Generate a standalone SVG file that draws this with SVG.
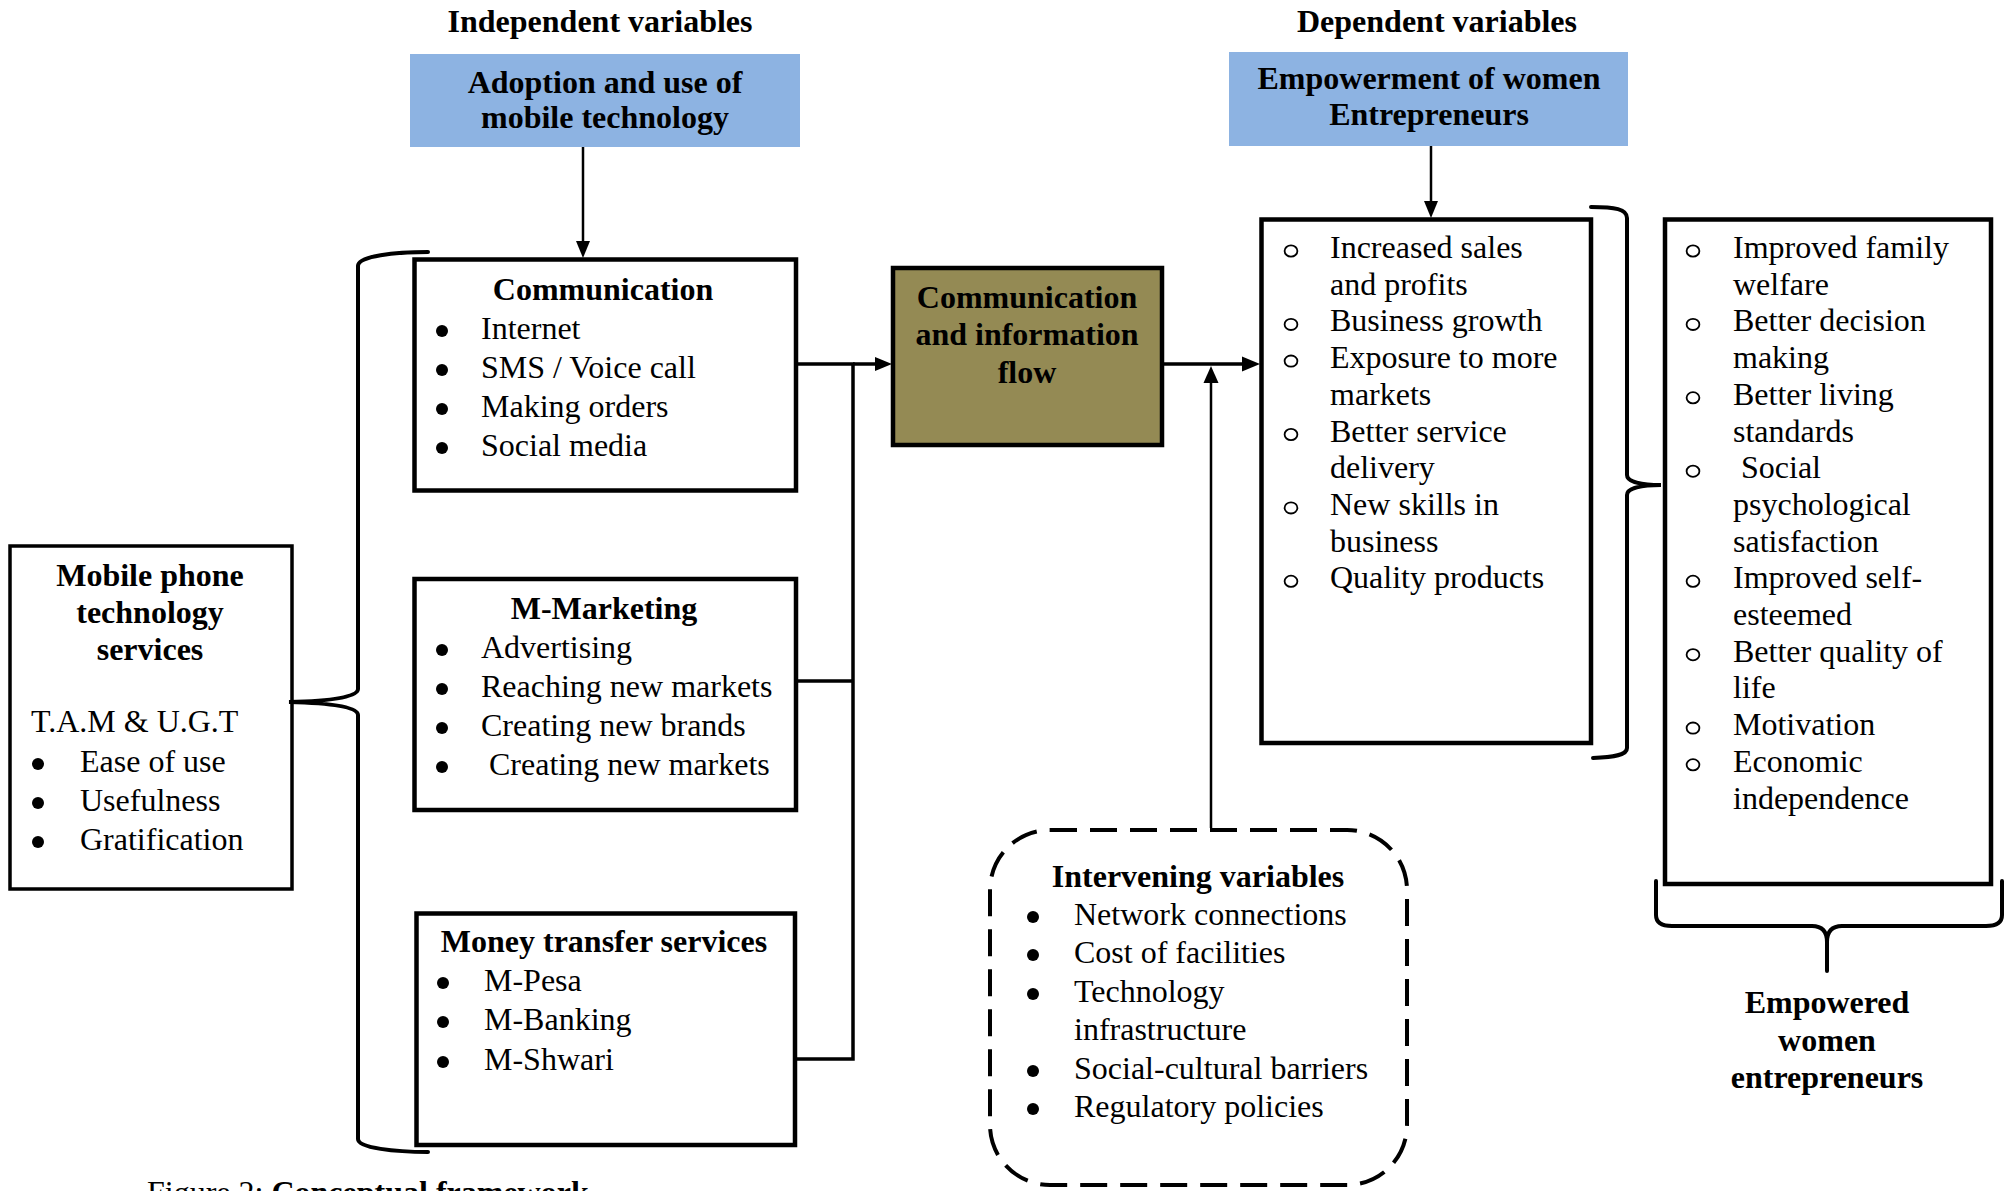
<svg xmlns="http://www.w3.org/2000/svg" width="2007" height="1191" viewBox="0 0 2007 1191">
<style>
.t{font-family:"Liberation Serif","Times New Roman",serif;font-size:32px;fill:#000}
.b{font-weight:bold}
.c{text-anchor:middle}
.box{fill:#fff;stroke:#000;stroke-width:4.5}
.blue{fill:#8DB3E2;stroke:none}
.olive{fill:#948A54;stroke:#000;stroke-width:4.5}
.dash{fill:#fff;stroke:#000;stroke-width:4;stroke-dasharray:27 13}
.ln{fill:none;stroke:#000;stroke-width:3.5}
.thin{fill:none;stroke:#000;stroke-width:2.5}
.br{fill:none;stroke:#000;stroke-width:4;stroke-linecap:round}
.dot{fill:#000}
.ring{fill:none;stroke:#000;stroke-width:1.8}
</style>
<defs>
<circle id="bul" class="dot" r="6" cx="0" cy="0"/>
<ellipse id="ob" class="ring" rx="6.4" ry="5.6" cx="0" cy="0"/>
</defs>
<rect width="2007" height="1191" fill="#fff"/>

<g id="label-independent">
<text class="t b c" x="600" y="32">Independent variables</text>
</g>
<g id="label-dependent">
<text class="t b c" x="1437" y="32">Dependent variables</text>
</g>

<g id="node-adoption">
<rect class="blue" x="410" y="54" width="390" height="93"/>
<text class="t b c" x="605" y="93">Adoption and use of</text>
<text class="t b c" x="605" y="128">mobile technology</text>
</g>

<g id="node-empowerment">
<rect class="blue" x="1229" y="52" width="399" height="94"/>
<text class="t b c" x="1429" y="89">Empowerment of women</text>
<text class="t b c" x="1429" y="125">Entrepreneurs</text>
</g>

<g id="node-mobile">
<rect class="box" x="10" y="546" width="282" height="343" style="stroke-width:3.5"/>
<text class="t b c" x="150" y="586">Mobile phone</text>
<text class="t b c" x="150" y="623">technology</text>
<text class="t b c" x="150" y="660">services</text>
<text class="t" x="31" y="732">T.A.M &amp; U.G.T</text>
<use href="#bul" x="38" y="764"/><text class="t" x="80" y="772">Ease of use</text>
<use href="#bul" x="38" y="803"/><text class="t" x="80" y="811">Usefulness</text>
<use href="#bul" x="38" y="842"/><text class="t" x="80" y="850">Gratification</text>
</g>

<g id="node-communication">
<rect class="box" x="414.5" y="259.5" width="381.5" height="231"/>
<text class="t b c" x="603" y="300">Communication</text>
<use href="#bul" x="442" y="331"/><text class="t" x="481" y="339">Internet</text>
<use href="#bul" x="442" y="370"/><text class="t" x="481" y="378">SMS / Voice call</text>
<use href="#bul" x="442" y="409"/><text class="t" x="481" y="417">Making orders</text>
<use href="#bul" x="442" y="448"/><text class="t" x="481" y="456">Social media</text>
</g>

<g id="node-marketing">
<rect class="box" x="414.5" y="579" width="381.5" height="231"/>
<text class="t b c" x="604" y="619">M-Marketing</text>
<use href="#bul" x="442" y="650"/><text class="t" x="481" y="658">Advertising</text>
<use href="#bul" x="442" y="689"/><text class="t" x="481" y="697">Reaching new markets</text>
<use href="#bul" x="442" y="728"/><text class="t" x="481" y="736">Creating new brands</text>
<use href="#bul" x="442" y="767"/><text class="t" x="489" y="775">Creating new markets</text>
</g>

<g id="node-money">
<rect class="box" x="416.5" y="913.5" width="378.5" height="231.5"/>
<text class="t b c" x="604" y="952">Money transfer services</text>
<use href="#bul" x="443" y="983"/><text class="t" x="484" y="991">M-Pesa</text>
<use href="#bul" x="443" y="1022"/><text class="t" x="484" y="1030">M-Banking</text>
<use href="#bul" x="443" y="1062"/><text class="t" x="484" y="1070">M-Shwari</text>
</g>

<g id="node-flow">
<rect class="olive" x="893" y="268" width="269" height="177"/>
<text class="t b c" x="1027" y="308">Communication</text>
<text class="t b c" x="1027" y="345">and information</text>
<text class="t b c" x="1027" y="383">flow</text>
</g>

<g id="node-results">
<rect class="box" x="1261.5" y="219.5" width="329.5" height="523.5"/>
<use href="#ob" x="1291" y="251"/><text class="t" x="1330" y="258">Increased sales</text>
<text class="t" x="1330" y="294.7">and profits</text>
<use href="#ob" x="1291" y="324.4"/><text class="t" x="1330" y="331.4">Business growth</text>
<use href="#ob" x="1291" y="361.1"/><text class="t" x="1330" y="368.1">Exposure to more</text>
<text class="t" x="1330" y="404.8">markets</text>
<use href="#ob" x="1291" y="434.5"/><text class="t" x="1330" y="441.5">Better service</text>
<text class="t" x="1330" y="478.2">delivery</text>
<use href="#ob" x="1291" y="507.9"/><text class="t" x="1330" y="514.9">New skills in</text>
<text class="t" x="1330" y="551.6">business</text>
<use href="#ob" x="1291" y="581.3"/><text class="t" x="1330" y="588.3">Quality products</text>
</g>

<g id="node-outcomes">
<rect class="box" x="1665" y="219.5" width="326" height="664.5"/>
<use href="#ob" x="1693" y="251"/><text class="t" x="1733" y="258">Improved family</text>
<text class="t" x="1733" y="294.7">welfare</text>
<use href="#ob" x="1693" y="324.4"/><text class="t" x="1733" y="331.4">Better decision</text>
<text class="t" x="1733" y="368.1">making</text>
<use href="#ob" x="1693" y="397.8"/><text class="t" x="1733" y="404.8">Better living</text>
<text class="t" x="1733" y="441.5">standards</text>
<use href="#ob" x="1693" y="471.2"/><text class="t" x="1741" y="478.2">Social</text>
<text class="t" x="1733" y="514.9">psychological</text>
<text class="t" x="1733" y="551.6">satisfaction</text>
<use href="#ob" x="1693" y="581.3"/><text class="t" x="1733" y="588.3">Improved self-</text>
<text class="t" x="1733" y="625">esteemed</text>
<use href="#ob" x="1693" y="654.7"/><text class="t" x="1733" y="661.7">Better quality of</text>
<text class="t" x="1733" y="698.4">life</text>
<use href="#ob" x="1693" y="728.1"/><text class="t" x="1733" y="735.1">Motivation</text>
<use href="#ob" x="1693" y="764.8"/><text class="t" x="1733" y="771.8">Economic</text>
<text class="t" x="1733" y="808.5">independence</text>
</g>

<g id="node-intervening">
<rect class="dash" x="990" y="830" width="417" height="355" rx="60" ry="60"/>
<text class="t b c" x="1198" y="887">Intervening variables</text>
<use href="#bul" x="1033" y="917"/><text class="t" x="1074" y="925">Network connections</text>
<use href="#bul" x="1033" y="955"/><text class="t" x="1074" y="963">Cost of facilities</text>
<use href="#bul" x="1033" y="994"/><text class="t" x="1074" y="1002">Technology</text>
<text class="t" x="1074" y="1040">infrastructure</text>
<use href="#bul" x="1033" y="1071"/><text class="t" x="1074" y="1079">Social-cultural barriers</text>
<use href="#bul" x="1033" y="1109"/><text class="t" x="1074" y="1117">Regulatory policies</text>
</g>

<g id="label-empowered">
<text class="t b c" x="1827" y="1013">Empowered</text>
<text class="t b c" x="1827" y="1051">women</text>
<text class="t b c" x="1827" y="1088">entrepreneurs</text>
</g>

<g id="caption">
<text class="t" x="147" y="1203">Figure 2: <tspan class="b">Conceptual framework</tspan></text>
</g>

<g id="connectors">
<line class="thin" x1="583" y1="147" x2="583" y2="244"/>
<polygon points="576,241 590,241 583,258"/>
<line class="thin" x1="1431" y1="146" x2="1431" y2="204"/>
<polygon points="1424,201 1438,201 1431,218"/>
<path class="ln" d="M797 364 H853 M797 681 H853 M796 1059 H853 M853 362.3 V1060.7"/>
<line class="ln" x1="853" y1="364" x2="878" y2="364"/>
<polygon points="875,357 892,364 875,371"/>
<line class="ln" x1="1164" y1="364" x2="1245" y2="364"/>
<polygon points="1242,356.5 1260,364 1242,371.5"/>
<line class="thin" x1="1211" y1="828" x2="1211" y2="380"/>
<polygon points="1203.5,383 1218.5,383 1211,366"/>
<path class="br" d="M428 252 C395 252 358 256 358 266 L358 689 C358 697 332 701 289 702 C332 703 358 707 358 715 L358 1139 C358 1148 395 1152 428 1152"/>
<path class="br" d="M1591 207 C1615 207 1627 209 1627 218 L1627 475 C1627 482 1642 485 1661 485 C1642 485 1627 488 1627 495 L1627 748 C1627 755 1615 757 1593 758"/>
<path class="br" d="M1656 881 L1656 915 C1656 923 1662 926 1672 926 L1812 926 C1822 926 1827 931 1827 942 L1827 971 M1827 942 C1827 931 1832 926 1842 926 L1986 926 C1996 926 2002 923 2002 915 L2002 881"/>
</g>
</svg>
